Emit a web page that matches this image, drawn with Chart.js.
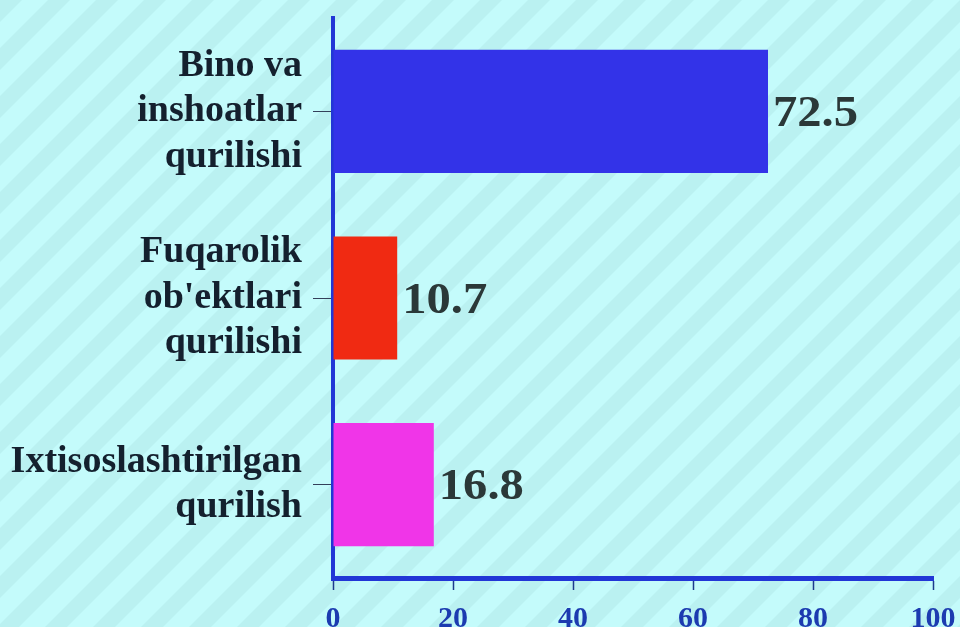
<!DOCTYPE html>
<html>
<head>
<meta charset="utf-8">
<script src="https://cdn.jsdelivr.net/npm/chart.js@4/dist/chart.umd.min.js"></script>
<style>
  html, body { margin: 0; padding: 0; background: #c3fbfb; }
  #wrap { width: 960px; height: 627px; position: relative; }
</style>
</head>
<body>
<div id="wrap"><canvas id="chart"></canvas></div>
<script>
const categories = [
  ["Bino va", "inshoatlar", "qurilishi"],
  ["Fuqarolik", "ob'ektlari", "qurilishi"],
  ["Ixtisoslashtirilgan", "qurilish"],
];
const values = [72.5, 10.7, 16.8];
const barColors = ["#3333e8", "#f02a12", "#f035e8"];
const xTicks = [0, 20, 40, 60, 80, 100];

const FONT = "'Liberation Serif', 'Times New Roman', serif";

// striped cyan background behind everything
const stripes = {
  id: "stripes",
  beforeDraw(chart) {
    const ctx = chart.ctx;
    const w = chart.width, h = chart.height;
    ctx.save();
    ctx.fillStyle = "#c4fbfb";
    ctx.fillRect(0, 0, w, h);
    ctx.fillStyle = "#baf1f1";
    const period = 48;
    for (let x = -h; x < w + h; x += period) {
      ctx.beginPath();
      ctx.moveTo(x, h);
      ctx.lineTo(x + 22, h);
      ctx.lineTo(x + 22 + h, 0);
      ctx.lineTo(x + h, 0);
      ctx.closePath();
      ctx.fill();
    }
    ctx.restore();
  },
};

// numbers to the right of each bar
const valueLabels = {
  id: "valueLabels",
  afterDatasetsDraw(chart) {
    const ctx = chart.ctx;
    const meta = chart.getDatasetMeta(0);
    ctx.save();
    ctx.fillStyle = "#2b3838";
    ctx.font = "bold 45px " + FONT;
    ctx.textBaseline = "middle";
    ctx.textAlign = "left";
    meta.data.forEach((bar, i) => {
      ctx.save();
      ctx.translate(bar.x + 5, bar.y + 3);
      ctx.scale(1.08, 1);
      ctx.fillText(String(values[i]), 0, 0);
      ctx.restore();
    });
    ctx.restore();
  },
};

new Chart(document.getElementById("chart"), {
  type: "bar",
  data: {
    labels: categories,
    datasets: [
      {
        data: values,
        backgroundColor: barColors,
        borderWidth: 0,
        barPercentage: 0.66,
        categoryPercentage: 1,
      },
    ],
  },
  options: {
    indexAxis: "y",
    responsive: true,
    maintainAspectRatio: false,
    animation: false,
    layout: { padding: { top: 18, right: 27, bottom: 0, left: 0 } },
    plugins: {
      legend: { display: false },
      tooltip: { enabled: false },
    },
    scales: {
      x: {
        min: 0,
        max: 100,
        afterBuildTicks: (scale) => {
          scale.ticks = xTicks.map((v) => ({ value: v }));
        },
        afterFit: (scale) => {
          scale.height = 49;
          scale.paddingLeft = 0;
          scale.paddingRight = 0;
        },
        border: { display: true, color: "#2236d6", width: 5 },
        grid: {
          drawOnChartArea: false,
          drawTicks: true,
          tickLength: 12,
          tickColor: "#1d3a8c",
          tickWidth: 1.5,
        },
        ticks: {
          color: "#1c3bb0",
          padding: 11,
          maxRotation: 0,
          font: { family: FONT, size: 30, weight: "bold" },
        },
      },
      y: {
        afterFit: (scale) => {
          scale.width = 333;
          scale.paddingTop = 0;
          scale.paddingBottom = 0;
        },
        border: { display: true, color: "#2236d6", width: 4 },
        grid: {
          offset: false,
          drawOnChartArea: false,
          drawTicks: true,
          tickLength: 20,
          tickColor: "#33405a",
          tickWidth: 1,
        },
        ticks: {
          color: "#14202e",
          padding: 11,
          font: { family: FONT, size: 38, weight: "bold", lineHeight: 1.2 },
        },
      },
    },
  },
  plugins: [stripes, valueLabels],
});
</script>
</body>
</html>
